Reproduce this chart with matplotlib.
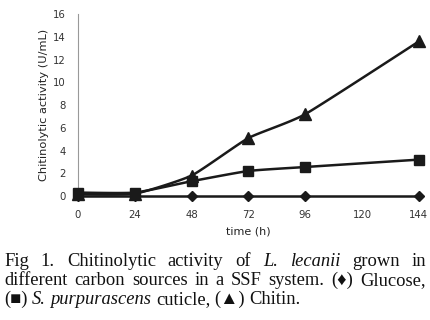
import numpy as np
import matplotlib
matplotlib.use("Agg")
import matplotlib.pyplot as plt

time_h = [0, 24, 48, 72, 96, 144]
glucose = [0.0, 0.0, 0.0, 0.0, 0.0, 0.0]
cuticle = [0.3, 0.3, 1.3, 2.2, 2.55, 3.2]
chitin = [0.15, 0.2, 1.8, 5.1, 7.2, 13.6]
x_ticks = [0, 24, 48, 72, 96, 120, 144]
y_ticks = [0, 2, 4, 6, 8, 10, 12, 14, 16]


def smooth(x, y, n=20, k=0.5):
    # Catmull-Rom style smoothing (like spreadsheet "smoothed line") for drawing only
    x = np.asarray(x, float); y = np.asarray(y, float)
    px = np.concatenate([[x[0]], x, [x[-1]]])
    py = np.concatenate([[y[0]], y, [y[-1]]])
    xs, ys = [], []
    t = np.linspace(0, 1, n)
    for i in range(1, len(px) - 2):
        p0, p1, p2, p3 = [np.array([px[j], py[j]]) for j in (i - 1, i, i + 1, i + 2)]
        m1 = (p2 - p0) / 2 * k
        m2 = (p3 - p1) / 2 * k
        h00 = 2*t**3 - 3*t**2 + 1
        h10 = t**3 - 2*t**2 + t
        h01 = -2*t**3 + 3*t**2
        h11 = t**3 - t**2
        pts = np.outer(h00, p1) + np.outer(h10, m1) + np.outer(h01, p2) + np.outer(h11, m2)
        xs.extend(pts[:, 0]); ys.extend(pts[:, 1])
    return np.array(xs), np.array(ys)


fig = plt.figure(figsize=(4.31, 3.2), dpi=100)
ax = fig.add_axes([0.181, 0.3875, 0.791, 0.5685])

col = "#1a1a1a"
for yv, mk, ms in [(glucose, "D", 4.8), (cuticle, "s", 7.5), (chitin, "^", 8.5)]:
    sx, sy = smooth(time_h, yv)
    ax.plot(sx, sy, color=col, lw=1.8, zorder=3, clip_on=False)
    ax.plot(time_h, yv, ls="none", marker=mk, ms=ms, color=col, zorder=4, clip_on=False)

ax.set_xlim(0, 144)
ax.set_ylim(0, 16)
ax.set_xticks(x_ticks)
ax.set_yticks(y_ticks)
ax.tick_params(length=0, labelsize=7.3, colors="#333333")
ax.tick_params(axis="x", pad=10)
ax.tick_params(axis="y", pad=9)
for s in ["top", "right"]:
    ax.spines[s].set_visible(False)
ax.spines["left"].set_color("#999999")
ax.spines["bottom"].set_color("#999999")
ax.spines["left"].set_linewidth(0.8)

fig.text(248/431, 1-231/320, "time (h)", ha="center", va="center", fontsize=8, color="#222222")
fig.text(44/431, 1-105/320, "Chitinolytic activity (U/mL)", ha="center", va="center",
         rotation=90, fontsize=8.2, color="#222222")

# caption
cap_lines = [
    ([("Fig", "n"), ("1.", "n"), ("Chitinolytic", "n"), ("activity", "n"), ("of", "n"),
      ("L.", "i"), ("lecanii", "i"), ("grown", "n"), ("in", "n")], True, 261),
    ([("different", "n"), ("carbon", "n"), ("sources", "n"), ("in", "n"), ("a", "n"),
      ("SSF", "n"), ("system.", "n"), ("(\u2666)", "n"), ("Glucose,", "n")], True, 280.5),
    ([("(\u25a0)", "n"), ("S.", "i"), ("purpurascens", "i"), ("cuticle,", "n"),
      ("(\u25b2)", "n"), ("Chitin.", "n")], False, 299.5),
]
renderer = fig.canvas.get_renderer()
x_left, x_right = 4, 426
fs = 13.3
for words, justify, yc in cap_lines:
    texts = []
    for w, st in words:
        fam = ["Liberation Serif", "DejaVu Serif", "DejaVu Sans"]
        t = fig.text(0, 1 - yc/320, w, fontsize=fs, family=fam,
                     style="italic" if st == "i" else "normal", va="center", ha="left",
                     color="#111111")
        texts.append(t)
    widths = [t.get_window_extent(renderer).width for t in texts]
    if justify:
        gap = (x_right - x_left - sum(widths)) / (len(texts) - 1)
    else:
        gap = 4.5
    x = x_left
    for t, wd in zip(texts, widths):
        t.set_x(x / 431)
        x += wd + gap

fig.savefig("out.png", dpi=100)
